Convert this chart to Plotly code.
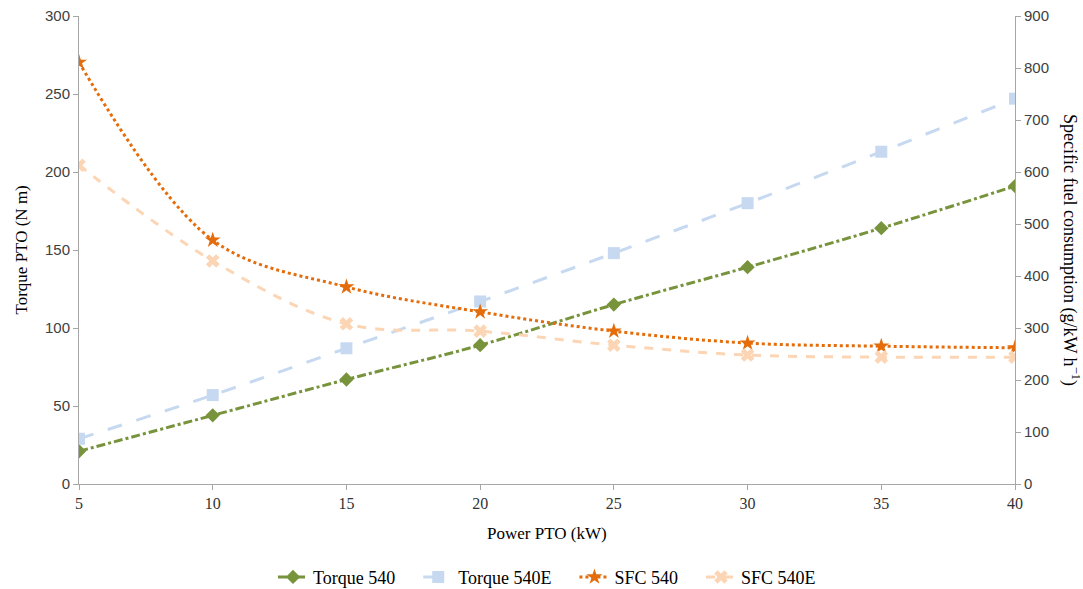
import plotly.graph_objects as go

power = [5, 10, 15, 20, 25, 30, 35, 40]
torque_540 = [21, 44, 67, 89, 115, 139, 164, 191]
torque_540e = [29, 57, 87, 117, 148, 180, 213, 247]
sfc_540 = [811, 469, 379, 331, 294, 271, 265, 262]
sfc_540e = [613, 429, 308, 294, 267, 248, 244, 244]
names = ["Torque 540", "Torque 540E", "SFC 540", "SFC 540E"]

SERIF = "Liberation Serif"
SANS = "Liberation Sans"
PAD = "\u00a0" * 4
fig = go.Figure()

fig.add_trace(go.Scatter(x=power, y=torque_540, name=names[0] + PAD, mode="lines+markers",
                         line=dict(color="#77933C", width=3, dash="dashdot", shape="spline"),
                         marker=dict(symbol="diamond", size=11, color="#77933C")))
fig.add_trace(go.Scatter(x=power, y=torque_540e, name=names[1] + PAD, mode="lines+markers",
                         line=dict(color="#C6D9F1", width=3, dash="longdash", shape="spline"),
                         marker=dict(symbol="square", size=12, color="#C6D9F1")))
fig.add_trace(go.Scatter(x=power, y=sfc_540, name=names[2] + PAD, mode="lines+markers", yaxis="y2",
                         line=dict(color="#E46C0A", width=3, dash="dot", shape="spline"),
                         marker=dict(symbol="star", size=12, color="#E46C0A")))
fig.add_trace(go.Scatter(x=power, y=sfc_540e, name=names[3], mode="lines+markers", yaxis="y2",
                         line=dict(color="#FCD5B5", width=3, dash="dash", shape="spline"),
                         marker=dict(symbol="x", size=12, color="#FCD5B5")))

axis_common = dict(showgrid=False, zeroline=False, showline=True, linecolor="#A6A6A6", linewidth=1,
                   ticks="outside", tickcolor="#A6A6A6", ticklen=5, automargin=False)

fig.update_layout(
    width=1083, height=589,
    paper_bgcolor="white", plot_bgcolor="white",
    margin=dict(l=79, r=68, t=16, b=105),
    font=dict(family=SERIF, size=16, color="#000000"),
    xaxis=dict(range=[5, 40], tickvals=power, tickfont=dict(family=SERIF, size=16, color="#333333"),
               **axis_common),
    yaxis=dict(range=[0, 300], dtick=50, tickfont=dict(family=SANS, size=15, color="#404040"),
               **axis_common),
    yaxis2=dict(range=[0, 900], dtick=100, overlaying="y", side="right",
                tickfont=dict(family=SANS, size=15, color="#404040"), **axis_common),
    legend=dict(orientation="h", x=0.5, xanchor="center", yref="container", y=0.02, yanchor="middle",
                font=dict(family=SERIF, size=18), itemwidth=30),
    showlegend=True,
)
fig.add_annotation(text="Power PTO (kW)", xref="paper", yref="paper", x=0.5, y=-0.105,
                   yanchor="middle", showarrow=False, font=dict(family=SERIF, size=17))
fig.add_annotation(text="Torque PTO (N m)", textangle=-90, xref="paper", yref="paper",
                   x=0.0, xshift=-70, y=0.5, showarrow=False, font=dict(family=SERIF, size=17))
fig.add_annotation(text="Specific fuel consumption (g/kW h<sup>−1</sup>)", textangle=90,
                   xref="paper", yref="paper", x=1.0, xshift=70, y=0.5, showarrow=False,
                   font=dict(family=SERIF, size=18))

fig.write_html("out.html", config={"displayModeBar": False},
               post_script="document.body.style.margin='0px';")
